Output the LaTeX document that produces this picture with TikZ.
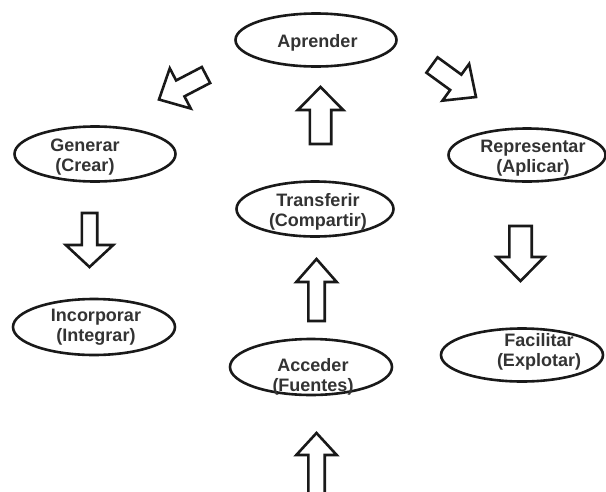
\documentclass[tikz,border=0pt]{standalone}
\usepackage{fontspec}
\setmainfont{Liberation Sans}
\usetikzlibrary{shapes.geometric,calc}
\tikzset{
  ell/.style={ellipse, draw=black!90, line width=2.6pt, inner sep=0pt},
  lbl/.style={align=center, inner sep=0pt, text=black!80, font=\bfseries\fontsize{18}{20}\selectfont},
  barrow/.style={draw=black!90, line width=2.6pt, fill=white, line join=miter},
}
% #1 name prefix (coordinates #1-s and #1-e must exist), #2 shaft half width, #3 head half width, #4 head length
\newcommand\blockarrow[4]{%
  \coordinate (#1-b) at ($(#1-e)!#4pt!(#1-s)$);
  \draw[barrow] ($(#1-s)!#2pt!90:(#1-e)$)
    -- ($(#1-b)!#2pt!90:(#1-e)$)
    -- ($(#1-b)!#3pt!90:(#1-e)$)
    -- (#1-e)
    -- ($(#1-b)!#3pt!-90:(#1-e)$)
    -- ($(#1-b)!#2pt!-90:(#1-e)$)
    -- ($(#1-s)!#2pt!-90:(#1-e)$)
    -- cycle;}
\begin{document}
\begin{tikzpicture}[x=1pt,y=-1pt]
\clip (0,0) rectangle (606,491);
\fill[white] (0,0) rectangle (606,491);

% ellipses
\node[ell, minimum width=161pt, minimum height=53pt] (apr) at (316,40) {};
\node[ell, minimum width=161pt, minimum height=55pt] (gen) at (95,154) {};
\node[ell, minimum width=157pt, minimum height=53pt] (rep) at (527,155) {};
\node[ell, minimum width=162pt, minimum height=53pt] (fac) at (522,355) {};
\node[ell, minimum width=157pt, minimum height=55pt] (tra) at (315,209) {};
\node[ell, minimum width=162pt, minimum height=56pt] (acc) at (311,367) {};
\node[ell, minimum width=162pt, minimum height=56pt] (inc) at (94,327) {};

% texts
\node[lbl, anchor=base] (aprT) at (317.5,47) {Aprender};
\node[lbl] (genT) at (85,157) {Generar\\(Crear)};
\node[lbl] (repT) at (533,158) {Representar\\(Aplicar)};
\node[lbl] (facT) at (539,352) {Facilitar\\(Explotar)};
\node[lbl] (traT) at (318,212) {Transferir\\(Compartir)};
\node[lbl] (accT) at (313,377) {Acceder\\(Fuentes)};
\node[lbl] (incT) at (96,327) {Incorporar\\(Integrar)};

% block arrows
\coordinate (a1-s) at (320.5,144); \coordinate (a1-e) at (320.5,87);
\blockarrow{a1}{10.7}{22.7}{23}
\coordinate (a2-s) at (316.5,321); \coordinate (a2-e) at (316.5,259);
\blockarrow{a2}{8.2}{20.2}{23}
\coordinate (a3-s) at (316.5,500); \coordinate (a3-e) at (316.5,433);
\blockarrow{a3}{8.2}{20.2}{22}
\coordinate (a4-s) at (89.5,213); \coordinate (a4-e) at (89.5,267);
\blockarrow{a4}{7.7}{23.7}{22}
\coordinate (a5-s) at (520.5,226); \coordinate (a5-e) at (520.5,281);
\blockarrow{a5}{11.2}{23.7}{24}
\coordinate (a6-s) at (206,75); \coordinate (a6-e) at (159,99.5);
\blockarrow{a6}{9}{22.7}{24}
\coordinate (a7-s) at (432,65); \coordinate (a7-e) at (476,97);
\blockarrow{a7}{9.5}{22.7}{25}
\end{tikzpicture}
\end{document}
